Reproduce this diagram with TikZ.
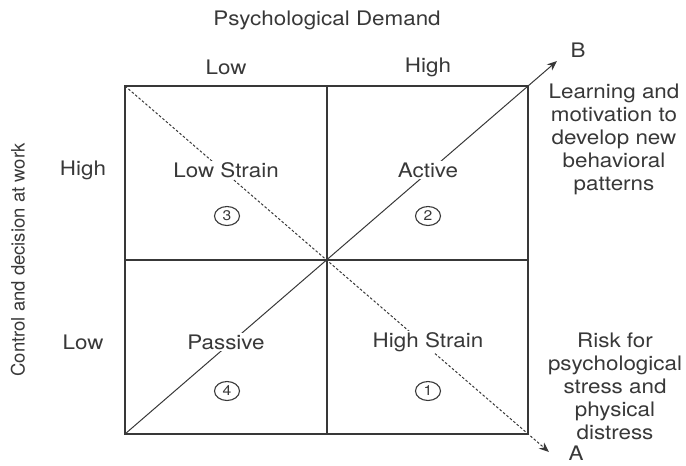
\documentclass[tikz,border=0pt]{standalone}
\usepackage{fontspec}
\setmainfont[FakeStretch=1.12]{TeX Gyre Heros}
\newfontfamily\uprightfont{TeX Gyre Heros}
\usetikzlibrary{arrows.meta,shapes.geometric}
\definecolor{ink}{HTML}{383838}
\begin{document}
\begin{tikzpicture}[x=1pt,y=-1pt,
	lbl/.style={text=ink,font=\fontsize{20}{23}\selectfont,inner sep=0pt},
	quad/.style={lbl,fill=white,inner sep=1.5pt},
	num/.style={ellipse,draw=ink,line width=1.1pt,inner sep=0pt,minimum width=25pt,minimum height=19pt,text=ink,font=\fontsize{14}{14}\selectfont}]
	\useasboundingbox (0,0) rectangle (686,466);
	% corners of the grid
	\coordinate (nw) at (125,86);
	\coordinate (ne) at (528,86);
	\coordinate (se) at (528,434);
	\coordinate (sw) at (125,434);
	\coordinate (n) at (327,86);
	\coordinate (s) at (327,434);
	\coordinate (w) at (125,260);
	\coordinate (e) at (528,260);
	\coordinate (b) at (557,61);
	\coordinate (a) at (549,452);
	\draw[ink,line width=1.4pt] (nw) rectangle (se);
	\draw[ink,line width=1.4pt] (n) -- (s);
	\draw[ink,line width=1.4pt] (w) -- (e);
	\draw[ink,line width=1pt,-{Stealth[length=10pt,width=8pt]}] (sw) -- (b);
	\draw[ink,line width=1pt,dash pattern=on 2.5pt off 2pt,-{Stealth[length=10pt,width=8pt]}] (nw) -- (a);
	% axis labels
	\node[lbl] (demand) at (327,20) {Psychological Demand};
	\node[lbl] (dlow) at (226,67) {Low};
	\node[lbl] (dhigh) at (428,67) {High};
	\node[lbl,rotate=90,font=\uprightfont\fontsize{18.5}{20}\selectfont] (control) at (18,260) {Control and decision at work};
	\node[lbl] (chigh) at (83,170) {High};
	\node[lbl] (clow) at (83,342) {Low};
	% quadrants
	\node[quad] (lowstrain) at (226,170) {Low Strain};
	\node[num] (q3) at (227,216) {3};
	\node[quad] (active) at (428,170) {Active};
	\node[num] (q2) at (428,216) {2};
	\node[quad] (passive) at (226,342) {Passive};
	\node[num] (q4) at (227,391) {4};
	\node[quad] (highstrain) at (428,342) {High Strain};
	\node[num] (q1) at (428,391) {1};
	% outcomes
	\node[lbl] (lb) at (578,50) {B};
	\node[lbl] (la) at (576,453) {A};
	\node[lbl,align=center] (learn) at (614,139) {Learning and\\motivation to\\develop new\\behavioral\\patterns};
	\node[lbl,align=center] (risk) at (615,386) {Risk for\\psychological\\stress and\\physical\\distress};
\end{tikzpicture}
\end{document}
